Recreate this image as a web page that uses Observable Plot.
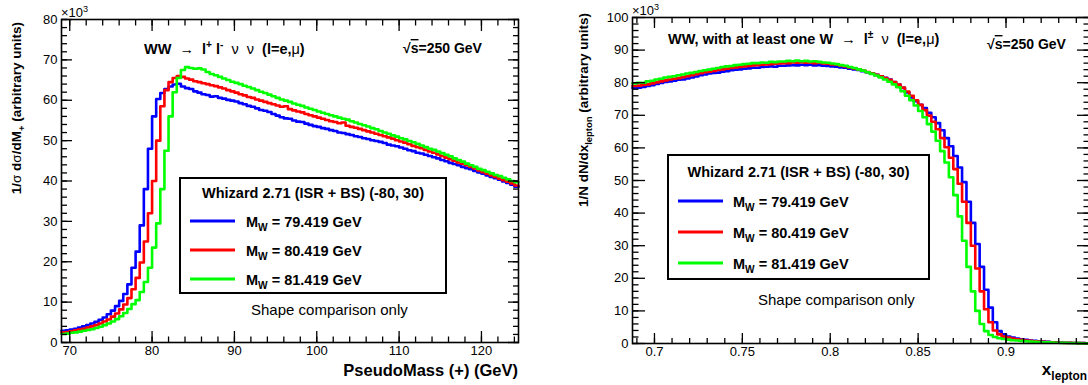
<!DOCTYPE html>
<html><head><meta charset="utf-8">
<script src="https://cdn.jsdelivr.net/npm/d3@7"></script>
<script src="https://cdn.jsdelivr.net/npm/@observablehq/plot@0.6"></script>
<style>
body{margin:0;background:#fff;}
#wrap{position:relative;width:1088px;height:385px;overflow:hidden;background:#fff;font-family:"Liberation Sans",Arial,Helvetica,sans-serif;}
#wrap > svg{position:absolute;top:0;}
</style></head><body><div id="wrap"></div>
<script>
// ---------- data (values in units of 10^3) ----------
const seriesNames = ["M_W = 79.419 GeV", "M_W = 80.419 GeV", "M_W = 81.419 GeV"];
const seriesColors = ["#0000ff", "#ff0000", "#00ff00"];

// left: PseudoMass (+), bins of 0.5 GeV starting at 69 GeV
const massLowEdge = 69, massBinWidth = 0.5;
const massBlue = [
 2.9,3.0,3.2,3.4,3.7,4.0,4.3,4.7,5.1,5.6,
 6.2,7.0,7.9,9.0,10.3,12.0,14.4,18.5,22.5,29.0,
 38.0,48.0,56.0,60.3,61.8,62.8,63.4,63.9,64.1,63.4,
 63.0,62.8,62.2,61.9,61.5,61.3,60.9,61.0,60.6,60.4,
 60.1,59.9,59.7,59.3,59.0,58.6,58.4,58.0,57.6,57.4,
 57.1,56.6,56.2,55.8,55.5,55.4,55.0,54.7,54.6,54.2,
 53.9,53.6,53.4,53.1,52.9,52.6,52.4,52.0,51.9,51.6,
 51.4,51.1,50.9,50.6,50.4,50.1,49.9,49.7,49.4,49.0,
 48.8,48.6,48.3,48.0,47.6,47.4,47.0,46.8,46.5,46.2,
 45.9,45.6,45.2,44.9,44.5,44.2,43.9,43.5,43.2,42.9,
 42.5,42.1,41.8,41.4,41.0,40.7,40.3,39.9,39.5,39.1,
 38.6];
const massRed = [
 2.5,2.6,2.8,3.0,3.2,3.4,3.7,4.0,4.3,4.7,
 5.2,5.7,6.4,7.2,8.2,9.4,11.0,13.2,16.0,19.8,
 25.0,32.0,40.0,50.0,58.5,62.5,64.5,65.5,66.0,65.8,
 65.4,65.1,64.7,64.5,64.2,64.0,63.7,63.5,63.2,62.9,
 62.5,62.2,61.9,61.5,61.2,60.8,60.6,60.2,59.9,59.6,
 59.3,59.0,58.7,58.4,58.5,57.8,57.5,57.2,57.0,56.6,
 56.3,56.0,55.7,55.4,55.1,54.8,54.6,54.3,54.5,53.7,
 53.4,53.2,52.9,52.6,52.3,52.0,51.7,51.4,51.1,50.8,
 50.5,50.1,49.8,49.5,49.1,48.7,48.4,48.1,47.7,47.3,
 47.0,46.6,46.2,45.8,45.4,45.0,44.6,44.3,43.9,43.5,
 43.1,42.6,42.2,41.8,41.4,41.0,40.6,40.2,39.8,39.4,
 38.9];
const massGreen = [
 2.1,2.2,2.4,2.5,2.7,2.9,3.1,3.3,3.6,3.9,
 4.3,4.7,5.2,5.8,6.5,7.3,8.3,9.5,10.5,12.5,
 15.0,18.5,23.5,29.5,38.0,47.5,56.0,62.0,65.5,67.5,
 68.2,68.0,67.8,67.9,67.6,67.0,66.5,66.2,65.8,65.4,
 65.0,64.6,64.3,64.0,63.6,63.3,62.9,62.5,62.1,61.8,
 61.4,61.0,60.6,60.2,59.9,59.6,59.2,58.9,58.6,58.2,
 57.9,57.6,57.2,56.9,56.6,56.3,56.0,55.7,55.4,55.2,
 54.8,54.5,54.1,53.8,53.5,53.1,52.8,52.4,52.0,51.7,
 51.3,51.0,50.6,50.3,49.9,49.6,49.2,48.8,48.4,48.0,
 47.7,47.3,46.9,46.5,46.1,45.6,45.2,44.8,44.3,43.9,
 43.5,43.0,42.7,42.3,41.9,41.5,41.2,40.8,40.4,40.0,
 39.7];

// right: x_lepton, bins of 0.0025 starting at 0.6875
const xlepLowEdge = 0.6875, xlepBinWidth = 0.0025;
const xlepBlue = [
 78.4,78.5,78.7,79.0,79.2,79.6,79.9,80.2,80.4,80.6,
 80.9,81.0,81.3,81.6,81.9,82.3,82.5,82.8,83.0,83.1,
 83.4,83.5,83.8,84.0,84.1,84.3,84.4,84.6,84.6,84.8,
 84.9,85.0,84.9,85.2,85.2,85.3,85.4,85.3,85.5,85.4,
 85.5,85.3,85.4,85.2,85.1,85.0,84.9,84.7,84.6,84.3,
 84.1,83.9,83.5,83.2,82.8,82.4,82.0,81.5,81.0,80.2,
 79.4,78.4,77.0,75.5,74.3,73.2,72.2,70.8,69.4,67.6,
 65.4,63.0,60.5,57.5,54.0,49.5,43.5,37.0,30.5,23.5,
 16.5,11.0,6.5,3.8,2.8,2.1,1.8,1.5,1.3,1.1,
 0.9,0.8,0.7,0.6,0.5,0.4,0.35,0.3,0.25,0.2,
 0.15,0.1,0.1,0.05];
const xlepRed = [
 79.0,79.1,79.3,79.5,79.8,80.1,80.4,80.7,81.0,81.2,
 81.4,81.7,82.0,82.3,82.6,82.9,83.2,83.4,83.6,83.9,
 84.1,84.3,84.5,84.7,84.8,85.0,85.1,85.3,85.4,85.5,
 85.6,85.7,85.8,85.9,86.0,86.0,86.2,86.1,86.3,86.1,
 86.2,86.0,86.1,85.9,85.8,85.6,85.5,85.2,85.0,84.7,
 84.4,84.1,83.7,83.3,82.9,82.4,82.0,81.4,80.9,80.2,
 79.4,78.5,77.3,76.0,74.6,73.2,71.6,69.9,68.0,65.7,
 63.0,60.2,57.0,53.5,49.0,43.5,37.0,30.0,23.0,16.0,
 10.5,6.5,4.0,2.8,2.1,1.8,1.5,1.3,1.1,0.9,
 0.8,0.7,0.6,0.5,0.45,0.4,0.3,0.25,0.2,0.2,
 0.15,0.1,0.1,0.05];
const xlepGreen = [
 79.8,80.0,80.0,80.4,80.6,81.0,81.2,81.6,81.8,82.0,
 82.3,82.5,82.8,83.0,83.3,83.6,83.8,84.0,84.3,84.5,
 84.8,85.0,85.1,85.4,85.5,85.7,85.8,86.0,86.0,86.2,
 86.1,86.4,86.3,86.5,86.5,86.7,86.6,86.8,86.6,86.7,
 86.5,86.6,86.4,86.2,86.1,85.9,85.7,85.4,85.2,84.8,
 84.5,84.1,83.7,83.2,82.7,82.2,81.6,81.0,80.3,79.5,
 78.6,77.4,76.0,74.6,73.0,71.3,69.4,67.3,65.0,62.2,
 59.0,55.5,51.0,45.5,39.0,31.5,23.5,16.0,10.0,6.0,
 3.8,2.6,2.0,1.6,1.4,1.2,1.0,0.9,0.8,0.7,
 0.6,0.5,0.45,0.4,0.35,0.3,0.25,0.2,0.2,0.15,
 0.1,0.1,0.05,0.05];

// axis ticks
const massTicks = [70, 80, 90, 100, 110, 120];
const massMinor = d3.range(70, 125, 2);
const yTicksLeft = [0, 10, 20, 30, 40, 50, 60, 70, 80];
const yMinorLeft = d3.range(0, 81, 2);
const xlepTicks = [0.7, 0.75, 0.8, 0.85, 0.9];
const xlepTickLabels = ["0.7", "0.75", "0.8", "0.85", "0.9"];
const xlepMinor = d3.range(0.69, 0.9475, 0.01);
const yTicksRight = [0, 10, 20, 30, 40, 50, 60, 70, 80, 90, 100];
const yMinorRight = d3.range(0, 101, 2);

// ---------- helpers ----------
function histPoints(values, low, w) {
  const pts = values.map((v, i) => ({x: low + i * w, y: v}));
  pts.push({x: low + values.length * w, y: values[values.length - 1]});
  return pts;
}
const wrap = document.getElementById("wrap");
const baseStyle = {fontFamily: '"Liberation Sans", Arial, sans-serif', fontSize: "13px", color: "black", background: "transparent", overflow: "visible"};
const none = () => "";

function frameAxes(xMaj, xMin, yMaj, yMin, xLab, yLab, tl) {
  return [
    Plot.frame({stroke: "black", strokeWidth: 1.6}),
    Plot.axisY(yMaj, {anchor: "left", tickSize: -tl.yM, tickPadding: tl.yM + 4, tickFormat: yLab, label: null, strokeWidth: 1.3, fill: "black"}),
    Plot.axisY(yMin, {anchor: "left", tickSize: -tl.ym, tickFormat: none, label: null, strokeWidth: 1.3}),
    Plot.axisY(yMaj, {anchor: "right", tickSize: -tl.yM, tickFormat: none, label: null, strokeWidth: 1.3}),
    Plot.axisY(yMin, {anchor: "right", tickSize: -tl.ym, tickFormat: none, label: null, strokeWidth: 1.3}),
    Plot.axisX(xMaj, {anchor: "bottom", tickSize: -tl.xM, tickPadding: tl.xM + 3, tickFormat: xLab, label: null, strokeWidth: 1.3, fill: "black"}),
    Plot.axisX(xMin, {anchor: "bottom", tickSize: -tl.xm, tickFormat: none, label: null, strokeWidth: 1.3}),
    Plot.axisX(xMaj, {anchor: "top", tickSize: -tl.xM, tickFormat: none, label: null, strokeWidth: 1.3}),
    Plot.axisX(xMin, {anchor: "top", tickSize: -tl.xm, tickFormat: none, label: null, strokeWidth: 1.3})
  ];
}

// ---------- left panel ----------
const massSeries = [massBlue, massRed, massGreen];
const left = Plot.plot({
  width: 540, height: 385,
  marginLeft: 61, marginRight: 22, marginTop: 19, marginBottom: 43,
  x: {domain: [69, 124.5], label: null},
  y: {domain: [0, 80], label: null},
  style: baseStyle,
  marks: [
    ...massSeries.map((s, k) => Plot.line(histPoints(s, massLowEdge, massBinWidth), {x: "x", y: "y", curve: "step-after", stroke: seriesColors[k], strokeWidth: 2.6})),
    ...frameAxes(massTicks, massMinor, yTicksLeft, yMinorLeft, d => String(d), d => String(d), {yM: 11, ym: 6, xM: 11, xm: 5.5})
  ]
});
left.style.left = "0px";
wrap.appendChild(left);

// ---------- right panel ----------
const xlepSeries = [xlepBlue, xlepRed, xlepGreen];
const right = Plot.plot({
  width: 549, height: 385,
  marginLeft: 92, marginRight: 0, marginTop: 17, marginBottom: 42,
  x: {domain: [0.6875, 0.9475], label: null},
  y: {domain: [0, 100], label: null},
  style: baseStyle,
  marks: [
    ...xlepSeries.map((s, k) => Plot.line(histPoints(s, xlepLowEdge, xlepBinWidth), {x: "x", y: "y", curve: "step-after", stroke: seriesColors[k], strokeWidth: 2.6})),
    ...frameAxes(xlepTicks, xlepMinor, yTicksRight, yMinorRight, d => xlepTickLabels[xlepTicks.indexOf(d)] ?? String(d), d => String(d), {yM: 13, ym: 6.5, xM: 10, xm: 5})
  ]
});
right.style.left = "540px";
wrap.appendChild(right);

// ---------- text overlay ----------
const ov = d3.select(wrap).append("svg").attr("width", 1088).attr("height", 385)
  .style("left", "0px").style("font-family", '"Liberation Sans", Arial, sans-serif');

function label(x, y, parts, {size = 14.5, weight = "bold", anchor = "start", rotate = 0} = {}) {
  const t = ov.append("text").attr("text-anchor", anchor).attr("font-size", size)
    .attr("font-weight", weight).attr("fill", "#000").style("white-space", "pre")
    .attr("transform", `translate(${x},${y})` + (rotate ? ` rotate(${rotate})` : ""));
  let shift = 0;
  for (const p of parts) {
    const s = typeof p === "string" ? {t: p} : p;
    const target = s.sub ? size * 0.3 : s.sup ? -size * 0.42 : 0;
    const ts = t.append("tspan").text(s.t).attr("dy", target - shift);
    shift = target;
    if (s.sub || s.sup) ts.attr("font-size", size * 0.7);
    if (s.w) ts.attr("font-weight", s.w);
    if (s.over) ts.style("text-decoration", "overline");
  }
  return t;
}
function legendBox(x, y, w, h, headerY, rowYs, textX, lineX1, lineX2) {
  ov.append("rect").attr("x", x).attr("y", y).attr("width", w).attr("height", h)
    .attr("fill", "white").attr("stroke", "black").attr("stroke-width", 2);
  label(x + w / 2, headerY, ["Whizard 2.71 (ISR + BS) (-80, 30)"], {anchor: "middle"});
  seriesNames.forEach((name, k) => {
    ov.append("line").attr("x1", lineX1).attr("x2", lineX2).attr("y1", rowYs[k]).attr("y2", rowYs[k])
      .attr("stroke", seriesColors[k]).attr("stroke-width", 3);
    const val = name.split("= ")[1];
    label(textX, rowYs[k] + 5.5, ["M", {t: "W", sub: true}, " = " + val]);
  });
}

// left panel texts
label(61, 17, ["×10", {t: "3", sup: true}], {size: 13, weight: "normal"});
label(21, 22, ["1/", {t: "σ", w: "normal"}, " d", {t: "σ", w: "normal"}, "/dM", {t: "+", sub: true}, " (arbitrary units)"], {size: 13.5, anchor: "end", rotate: -90});
label(518, 376, ["PseudoMass (+) (GeV)"], {size: 16.5, anchor: "end"});
label(144, 54, ["WW  ", {t: "→", w: "normal"}, "  l", {t: "+", sup: true}, " l", {t: "-", sup: true}, {t: "  ν  ν", w: "normal"}, "  (l=e,", {t: "μ", w: "normal"}, ")"], {size: 14.5});
label(403, 53, ["√", {t: "s", over: true}, "=250 GeV"], {size: 14});
legendBox(180, 178, 266, 115, 198, [221, 250, 279], 246, 190, 235);
label(251, 315, ["Shape comparison only"], {size: 15, weight: "normal"});

// right panel texts
label(632, 15, ["×10", {t: "3", sup: true}], {size: 13, weight: "normal"});
label(588, 13, ["1/N dN/dx", {t: "lepton", sub: true}, " (arbitrary units)"], {size: 13.5, anchor: "end", rotate: -90});
label(1087, 375, ["x", {t: "lepton", sub: true}], {size: 17, anchor: "end"});
label(668, 44, ["WW, with at least one W  ", {t: "→", w: "normal"}, "  l", {t: "±", sup: true}, {t: "  ν", w: "normal"}, "  (l=e,", {t: "μ", w: "normal"}, ")"], {size: 14.5});
label(987, 49, ["√", {t: "s", over: true}, "=250 GeV"], {size: 14});
legendBox(668, 155, 261, 124, 177, [201, 232, 263], 733, 678, 723);
label(758, 305, ["Shape comparison only"], {size: 15, weight: "normal"});
</script></body></html>
